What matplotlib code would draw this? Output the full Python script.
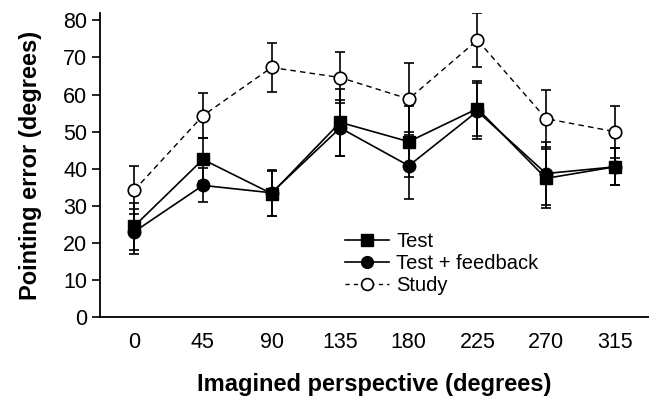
import matplotlib
matplotlib.use("Agg")
import matplotlib.pyplot as plt
from matplotlib.lines import Line2D

plt.rcParams['font.family'] = ['Liberation Sans', 'DejaVu Sans']

categories = ["0", "45", "90", "135", "180", "225", "270", "315"]
test = [24.5, 42.5, 33.3, 52.5, 47.3, 56.2, 37.4, 40.5]
test_err = [6.3, 5.9, 6.0, 9.0, 9.5, 7.5, 8.0, 5.0]
feedback = [23.0, 35.5, 33.5, 51.0, 40.8, 55.5, 38.7, 40.5]
feedback_err = [6.0, 4.6, 6.2, 7.5, 9.0, 7.5, 8.5, 5.0]
study = [34.2, 54.3, 67.3, 64.6, 58.8, 74.7, 53.5, 50.0]
study_err = [6.5, 6.0, 6.7, 6.8, 9.6, 7.3, 7.7, 7.0]
series_labels = ["Test", "Test + feedback", "Study"]

fig = plt.figure(figsize=(6.49, 4.0), dpi=100)
ax = fig.add_axes([0.154, 0.2075, 0.846, 0.76])

x = list(range(len(categories)))
dash = (0, (4, 3))

ax.errorbar(x, study, yerr=study_err, color='black', linestyle=dash, lw=1.0,
            marker='o', markersize=9, markerfacecolor='white', markeredgecolor='black',
            markeredgewidth=1.2, capsize=3.5, elinewidth=1.2, capthick=1.2, zorder=2)
ax.errorbar(x, feedback, yerr=feedback_err, color='black', linestyle='-', lw=1.2,
            marker='o', markersize=9, markerfacecolor='black', markeredgecolor='black',
            capsize=3.5, elinewidth=1.2, capthick=1.2, zorder=3)
ax.errorbar(x, test, yerr=test_err, color='black', linestyle='-', lw=1.2,
            marker='s', markersize=9, markerfacecolor='black', markeredgecolor='black',
            capsize=3.5, elinewidth=1.2, capthick=1.2, zorder=4)

ax.set_xlim(-0.5, 7.5)
ax.set_ylim(0, 82)
ax.set_yticks(range(0, 81, 10))
ax.set_xticks(x)
ax.set_xticklabels(categories)
ax.tick_params(axis='x', length=0, pad=11, labelsize=15.5)
ax.tick_params(axis='y', length=6, width=1.2, direction='out', labelsize=15.5, pad=3)
for s in ['top', 'right']:
    ax.spines[s].set_visible(False)
for s in ['left', 'bottom']:
    ax.spines[s].set_linewidth(1.3)

ax.set_xlabel('Imagined perspective (degrees)', fontsize=17, fontweight='bold', labelpad=14)
ax.set_ylabel('Pointing error (degrees)', fontsize=17, fontweight='bold', labelpad=15)

handles = [
    Line2D([], [], color='black', lw=1.2, marker='s', markersize=8.5,
           markerfacecolor='black'),
    Line2D([], [], color='black', lw=1.2, marker='o', markersize=8.5,
           markerfacecolor='black'),
    Line2D([], [], color='black', lw=1.0, linestyle=(0, (3, 3)), marker='o',
           markersize=8.5, markerfacecolor='white', markeredgewidth=1.2),
]
leg = fig.legend(handles, series_labels, loc='upper left',
                 bbox_to_anchor=(345 / 649, 1 - 232 / 400), frameon=False,
                 fontsize=14.5, handlelength=2.2, handletextpad=0.35,
                 labelspacing=0.16, borderpad=0.0, borderaxespad=0.0)

fig.savefig('out.png', dpi=100)
